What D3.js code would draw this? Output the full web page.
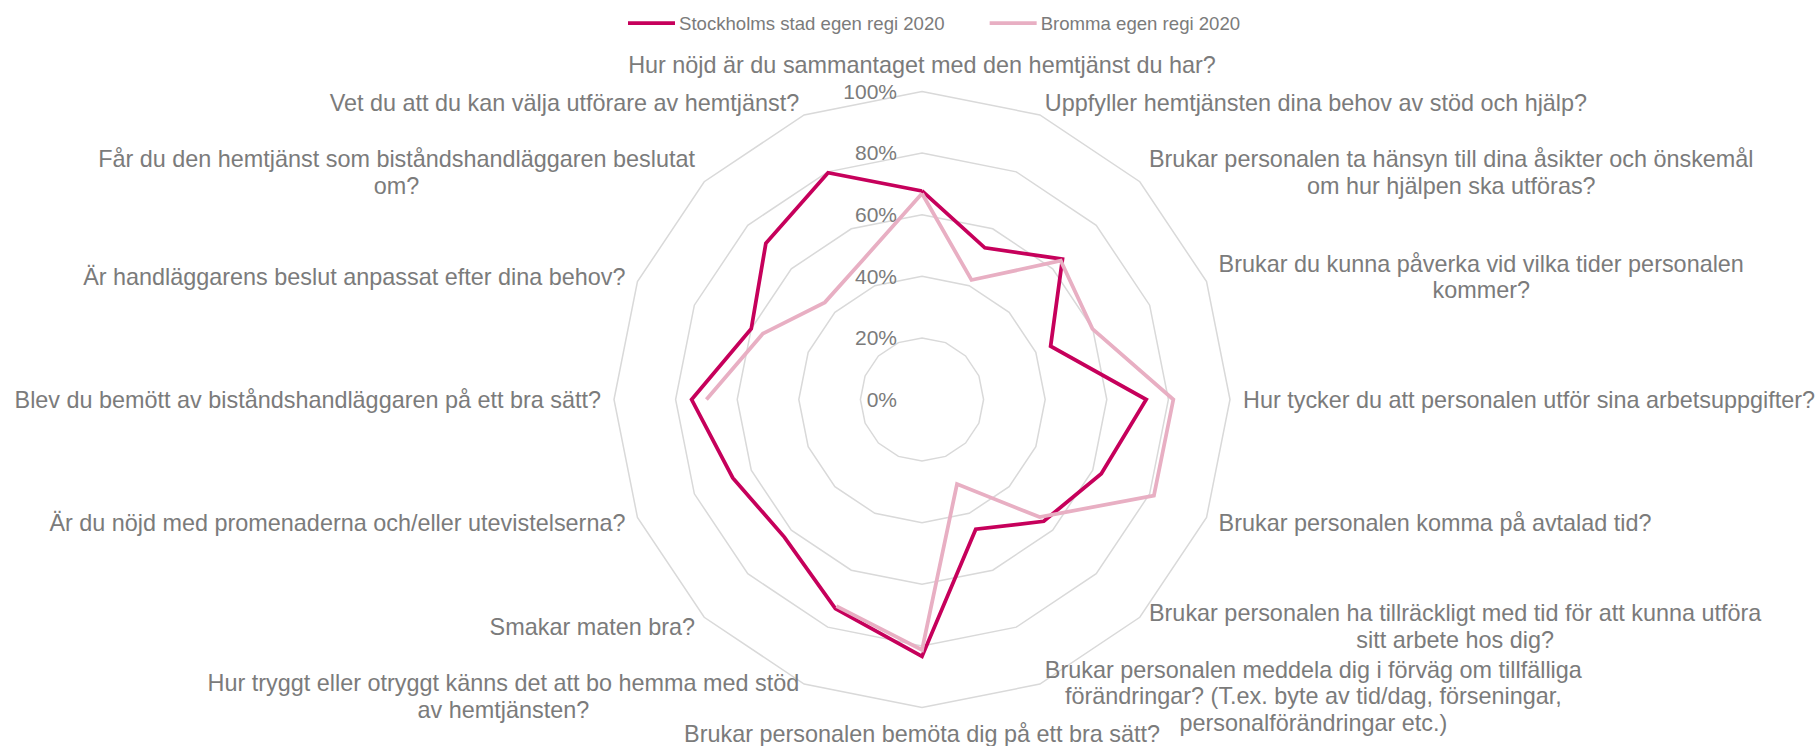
<!DOCTYPE html>
<html>
<head>
<meta charset="utf-8">
<title>Hemtjänst - radar</title>
<script src="https://cdn.jsdelivr.net/npm/d3@7"></script>
<style>
    body { margin: 0; background: #fff; }
    text { font-family: "Liberation Sans", Arial, sans-serif; fill: #7b7b7b; }
</style>
</head>
<body>
<script>
// questions, clockwise from the top
var categories = [
    "Hur nöjd är du sammantaget med den hemtjänst du har?",
    "Uppfyller hemtjänsten dina behov av stöd och hjälp?",
    "Brukar personalen ta hänsyn till dina åsikter och önskemål\nom hur hjälpen ska utföras?",
    "Brukar du kunna påverka vid vilka tider personalen\nkommer?",
    "Hur tycker du att personalen utför sina arbetsuppgifter?",
    "Brukar personalen komma på avtalad tid?",
    "Brukar personalen ha tillräckligt med tid för att kunna utföra\nsitt arbete hos dig?",
    "Brukar personalen meddela dig i förväg om tillfälliga\nförändringar? (T.ex. byte av tid/dag, förseningar,\npersonalförändringar etc.)",
    "Brukar personalen bemöta dig på ett bra sätt?",
    "Hur tryggt eller otryggt känns det att bo hemma med stöd\nav hemtjänsten?",
    "Smakar maten bra?",
    "Är du nöjd med promenaderna och/eller utevistelserna?",
    "Blev du bemött av biståndshandläggaren på ett bra sätt?",
    "Är handläggarens beslut anpassat efter dina behov?",
    "Får du den hemtjänst som biståndshandläggaren beslutat\nom?",
    "Vet du att du kan välja utförare av hemtjänst?"
];

var stockholm = [0.677, 0.533, 0.645, 0.452, 0.728, 0.63, 0.559, 0.456,
                 0.834, 0.735, 0.632, 0.665, 0.748, 0.60, 0.717, 0.797];
// null = no answer (gap in the line)
var bromma = [0.669, 0.42, 0.637, 0.599, 0.816, 0.815, 0.54, 0.297,
              0.813, 0.726, null, null, 0.70, 0.559, 0.446, 0.494];

var tickValues = [0, 0.2, 0.4, 0.6, 0.8, 1];
var seriesNames = ["Stockholms stad egen regi 2020", "Bromma egen regi 2020"];
var seriesColors = ["#c6005b", "#e8afc3"];

var width = 1816;
var height = 746;
var cx = 922, cy = 399.5, radius = 308;

var svg = d3.select("body")
    .append("svg")
        .attr("width", width)
        .attr("height", height);

var g = svg.append("g")
    .attr("transform", "translate(" + cx + "," + cy + ")");

var angle = d3.scaleLinear()
    .domain([0, categories.length])
    .range([0, 2 * Math.PI]);

var r = d3.scaleLinear()
    .domain([0, 1])
    .range([0, radius]);

function px(i, v) { return r(v) * Math.sin(angle(i)); }
function py(i, v) { return -r(v) * Math.cos(angle(i)); }

// grid rings
var ringLine = d3.line()
    .x((d) => px(d.i, d.v))
    .y((d) => py(d.i, d.v))
    .curve(d3.curveLinearClosed);

g.selectAll(".ring").data(tickValues.slice(1))
    .enter().append("path")
        .attr("class", "ring")
        .attr("d", (v) => ringLine(categories.map((c, i) => ({i: i, v: v}))))
        .attr("fill", "none")
        .attr("stroke", "#d9d9d9")
        .attr("stroke-width", 1.5);

// tick labels
g.selectAll(".tick").data(tickValues)
    .enter().append("text")
        .attr("class", "tick")
        .attr("x", -25)
        .attr("y", (v) => -r(v))
        .attr("dy", "0.35em")
        .attr("text-anchor", "end")
        .attr("font-size", "21px")
        .text((v) => d3.format(".0%")(v));

// series
var series = [
    {name: seriesNames[0], values: stockholm, color: seriesColors[0]},
    {name: seriesNames[1], values: bromma, color: seriesColors[1]}
];

var seriesLine = d3.line()
    .defined((d) => d.v != null)
    .x((d) => px(d.i, d.v))
    .y((d) => py(d.i, d.v));

g.selectAll(".series").data(series)
    .enter().append("path")
        .attr("class", "series")
        .attr("d", (s) => {
            var pts = s.values.map((v, i) => ({i: i, v: v}));
            pts.push({i: s.values.length, v: s.values[0]});
            return seriesLine(pts);
        })
        .attr("fill", "none")
        .attr("stroke", (s) => s.color)
        .attr("stroke-width", 3.75)
        .attr("stroke-linejoin", "miter");

// category labels
var labelR = radius + 13;
var lineH = 26.6;

categories.forEach((c, i) => {
    var lines = c.split("\n");
    var a = angle(i);
    var ax = labelR * Math.sin(a);
    var ay = -labelR * Math.cos(a);
    var lg = g.append("g").attr("class", "label");
    var t = lg.append("text")
        .attr("text-anchor", "middle")
        .attr("font-size", "23.4px");
    lines.forEach((l, k) => {
        t.append("tspan")
            .attr("x", 0)
            .attr("y", (k - (lines.length - 1) / 2) * lineH)
            .attr("dy", "0.35em")
            .text(l);
    });
    var w = 0;
    t.selectAll("tspan").each(function() { w = Math.max(w, this.getComputedTextLength()); });
    var h = lines.length * lineH;
    var sx = Math.sin(a), sy = Math.cos(a);
    var tx = ax, ty = ay;
    if (Math.abs(sx) < 0.01) {
        ty = sy > 0 ? ay - h / 2 : ay + h / 2;
    } else if (sx > 0) {
        tx = ax + w / 2;
    } else {
        tx = ax - w / 2;
    }
    lg.attr("transform", "translate(" + tx + "," + ty + ")");
});

// legend
var legend = svg.append("g").attr("transform", "translate(628, 23)");
var lx = 0;
series.forEach((s) => {
    var item = legend.append("g").attr("transform", "translate(" + lx + ",0)");
    item.append("line")
        .attr("x1", 0).attr("x2", 47)
        .attr("y1", 0).attr("y2", 0)
        .attr("stroke", s.color)
        .attr("stroke-width", 3.75);
    var lt = item.append("text")
        .attr("x", 51)
        .attr("dy", "0.35em")
        .attr("font-size", "18.6px")
        .text(s.name);
    lx += 51 + lt.node().getComputedTextLength() + 45;
});
</script>
</body>
</html>
